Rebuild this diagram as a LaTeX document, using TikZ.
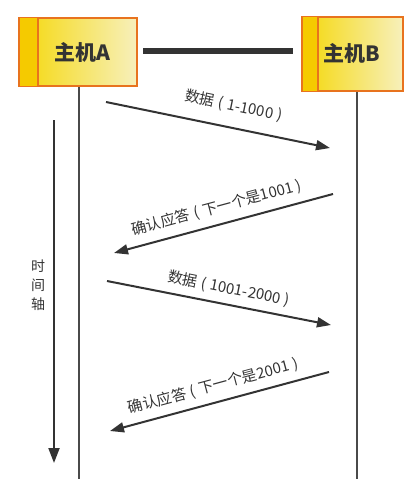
\documentclass[tikz,border=0pt]{standalone}
\usepackage{fontspec}
\setmainfont{Noto Sans CJK SC}
\usetikzlibrary{arrows.meta}
\definecolor{boxborder}{HTML}{E8731E}
\definecolor{boxleft}{HTML}{F5D80C}
\definecolor{boxright}{HTML}{F7F0BC}
\definecolor{stripe}{HTML}{F5CA00}
\definecolor{ink}{HTML}{333333}
\definecolor{life}{HTML}{4A4A4A}
\newcommand{\lp}{\hspace{4pt}(\hspace{4pt}}
\newcommand{\rp}{\hspace{4pt})}
\tikzset{
  host/.style={draw=boxborder, line width=1.6pt, left color=boxleft, right color=boxright,
    minimum width=#1, inner sep=0pt},
  hostname/.style={text=ink, font=\fontsize{21}{24}\selectfont\bfseries},
  stripeline/.style={boxborder, line width=1.6pt},
  lifeline/.style={draw=life, line width=2pt},
  msg/.style={draw=ink, line width=2pt, -{Triangle[length=14pt,width=10pt]}},
  msglabel/.style={sloped, inner sep=0pt, text height=12pt, text depth=3pt, text=ink,
    font=\fontsize{15}{17}\selectfont},
  link/.style={draw=ink, line width=6pt},
}
\begin{document}
\begin{tikzpicture}[x=1pt, y=-1pt]
\useasboundingbox (0,0) rectangle (414,479);
% hosts
\node[host=117pt, minimum height=68pt] (A) at (78.5,52) {};
\node[host=100pt, minimum height=74pt] (B) at (353,54) {};
\fill[stripe] ([xshift=0.8pt,yshift=-0.8pt]A.north west) rectangle ([xshift=19pt,yshift=0.8pt]A.south west);
\draw[stripeline] ([xshift=19pt]A.north west) -- ([xshift=19pt]A.south west);
\draw[stripeline] (A.north west) -- (A.south west);
\fill[stripe] ([xshift=0.8pt,yshift=-0.8pt]B.north west) rectangle ([xshift=16pt,yshift=0.8pt]B.south west);
\draw[stripeline] ([xshift=16pt]B.north west) -- ([xshift=16pt]B.south west);
\draw[stripeline] (B.north west) -- (B.south west);
\node[hostname] (Alabel) at (82,52) {主机A};
\node[hostname] (Blabel) at (352,53) {主机B};
% link between hosts
\coordinate (L1) at (143,51);
\coordinate (L2) at (293,51);
\draw[link] (L1) -- (L2);
% lifelines
\coordinate (Aend) at (79,479);
\coordinate (Bend) at (357,479);
\draw[lifeline] (A.south -| Aend) -- (Aend);
\draw[lifeline] (B.south -| Bend) -- (Bend);
% time axis
\coordinate (T1) at (54,120);
\coordinate (T2) at (54,463);
\draw[msg, -{Triangle[length=15pt,width=11pt]}] (T1) -- (T2);
\node[text=ink, align=center, font=\fontsize{14}{19}\selectfont] (tlabel) at (38,285) {时\\间\\轴};
% messages
\coordinate (a1s) at (106,102); \coordinate (a1e) at (330,148);
\coordinate (a2s) at (333,194); \coordinate (a2e) at (114,253);
\coordinate (a3s) at (107,281); \coordinate (a3e) at (331,325);
\coordinate (a4s) at (329,372); \coordinate (a4e) at (110,431);
\draw[msg] (a1s) -- node[msglabel, pos=0.55, above=13pt] (m1) {数据\lp 1-1000\rp} (a1e);
\draw[msg] (a2s) -- node[msglabel, pos=0.51, above=8pt] (m2) {确认应答\lp 下一个是1001\rp} (a2e);
\draw[msg] (a3s) -- node[msglabel, pos=0.53, above=7pt] (m3) {数据\lp 1001-2000\rp} (a3e);
\draw[msg] (a4s) -- node[msglabel, pos=0.51, above=7.5pt] (m4) {确认应答\lp 下一个是2001\rp} (a4e);
\end{tikzpicture}
\end{document}
